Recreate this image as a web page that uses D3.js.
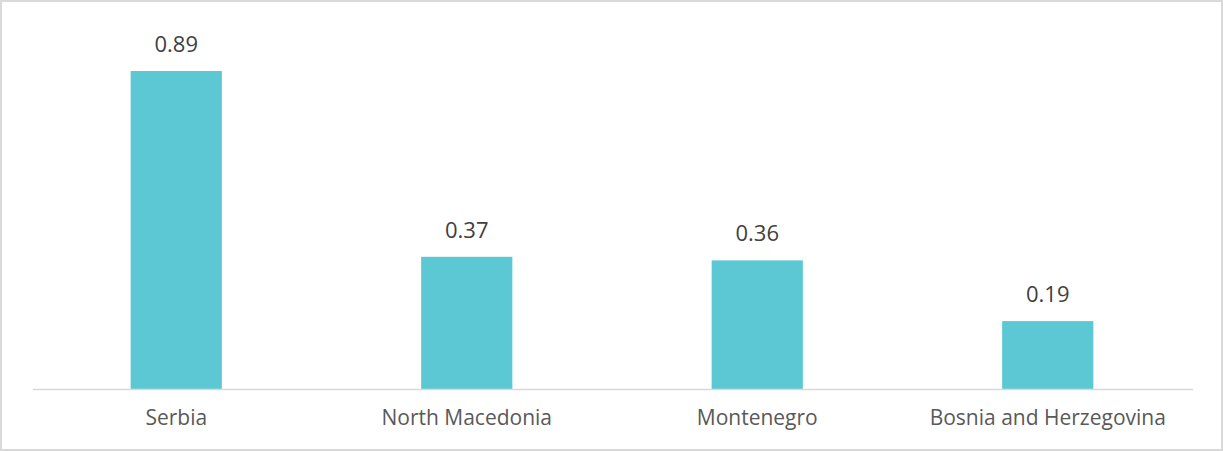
<!DOCTYPE html>
<html>
<head>
<meta charset="utf-8">
<script src="https://cdn.jsdelivr.net/npm/d3@7"></script>
<style>
  body { margin: 0; background: #fff; }
  svg { display: block; font-family: "Open Sans", sans-serif; }
</style>
</head>
<body>
<svg width="1223" height="451"></svg>
<script>
const countries = ["Serbia", "North Macedonia", "Montenegro", "Bosnia and Herzegovina"];
const values = [0.89, 0.37, 0.36, 0.19];

const svg = d3.select("svg");
const width = +svg.attr("width");
const height = +svg.attr("height");

// outer frame
svg.append("rect")
  .attr("x", 1).attr("y", 1)
  .attr("width", width - 2).attr("height", height - 2)
  .attr("fill", "none").attr("stroke", "#d9d9d9").attr("stroke-width", 2);

const baseY = 389;
const x = d3.scaleBand()
  .domain(countries)
  .range([31, 1193])
  .paddingInner(0.686)
  .paddingOuter(0.343);

const y = d3.scaleLinear()
  .domain([0, 1])
  .range([baseY, baseY - 357.3]);

svg.selectAll("rect.bar")
  .data(countries)
  .enter().append("rect")
  .attr("class", "bar")
  .attr("x", d => x(d))
  .attr("width", x.bandwidth())
  .attr("y", (d, i) => y(values[i]))
  .attr("height", (d, i) => y(0) - y(values[i]))
  .attr("fill", "#5bc8d4");

// baseline
svg.append("line")
  .attr("x1", 33).attr("x2", 1193)
  .attr("y1", baseY + 0.5).attr("y2", baseY + 0.5)
  .attr("stroke", "#d9d9d9").attr("stroke-width", 1.5);

// value labels
svg.selectAll("text.val")
  .data(countries)
  .enter().append("text")
  .attr("class", "val")
  .attr("x", d => x(d) + x.bandwidth() / 2)
  .attr("y", (d, i) => y(values[i]) - 19)
  .attr("text-anchor", "middle")
  .attr("font-size", 22)
  .attr("fill", "#404040")
  .text((d, i) => values[i].toFixed(2));

// category labels
const axis = d3.axisBottom(x).tickSize(0).tickPadding(21);
const g = svg.append("g")
  .attr("transform", `translate(0,${baseY})`)
  .call(axis);
g.select(".domain").remove();
g.selectAll("text")
  .attr("font-size", 21)
  .attr("font-family", "'Open Sans', sans-serif")
  .attr("fill", "#595959");
</script>
</body>
</html>
